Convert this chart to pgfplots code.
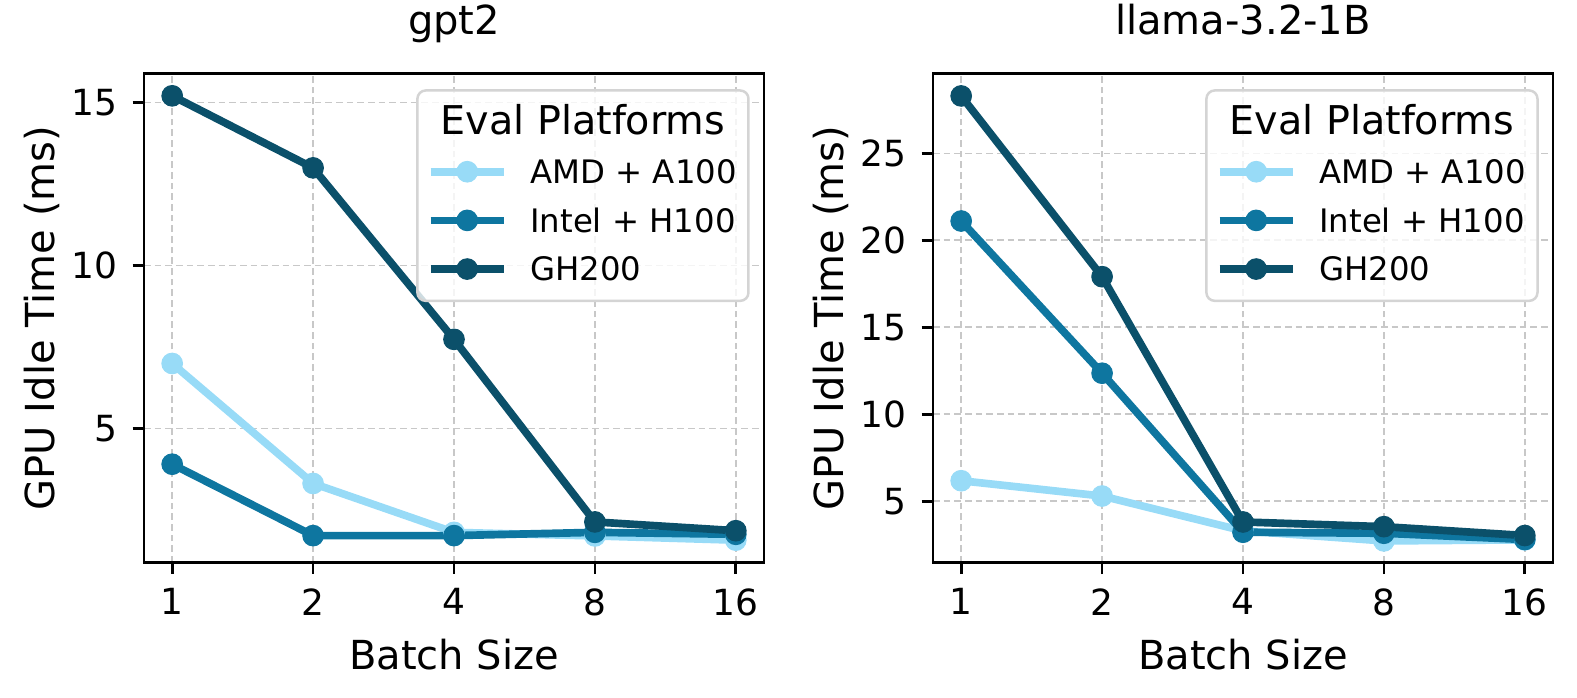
\documentclass[border=0pt]{standalone}
\usepackage{fontspec}
\setmainfont{DejaVu Sans}
\usepackage{pgfplots}
\pgfplotsset{compat=1.18}
\definecolor{amd}{RGB}{152,219,247}
\definecolor{intel}{RGB}{14,118,160}
\definecolor{gh}{RGB}{11,80,106}
\definecolor{gridc}{RGB}{200,200,200}
\definecolor{legc}{RGB}{212,212,212}

\pgfplotsset{
  myaxis/.style={
    scale only axis, width=186bp, height=146.8bp,
    enlargelimits=false,
    xmin=-0.2, xmax=4.2, xtick={0,1,2,3,4}, xticklabels={1,2,4,8,16},
    axis line style={line width=0.8bp, black},
    every tick/.style={line width=0.8bp, black},
    major tick length=3.4bp,
    tick align=outside,
    xtick pos=bottom, ytick pos=left,
    grid=major,
    major grid style={gridc, line width=0.5bp, dash pattern=on 2bp off 1.2bp},
    tick label style={font=\fontsize{10.8bp}{12bp}\selectfont},
    /pgf/number format/assume math mode=true,
    xticklabel style={anchor=north, inner sep=0pt, yshift=-4.1bp},
    yticklabel style={anchor=east, inner sep=0pt, xshift=-4.5bp},
    every axis x label/.style={at={(axis description cs:0.5,-0.218)}, anchor=base, font=\fontsize{12bp}{14bp}\selectfont},
    every axis y label/.style={at={(axis description cs:-0.145,0.5)}, rotate=90, anchor=base, font=\fontsize{12bp}{14bp}\selectfont},
    title style={at={(axis description cs:0.5,1.0395)}, anchor=base, font=\fontsize{12bp}{14bp}\selectfont},
    xlabel={Batch Size}, ylabel={GPU Idle Time (ms)},
    legend cell align=left,
    legend style={at={(rel axis cs:0.456,0.823)}, anchor=north west, draw=none, fill=none,
      inner sep=0pt, outer sep=0pt, row sep=7.53bp, column sep=6.8bp,
      font=\fontsize{9.7bp}{11bp}\selectfont,
      nodes={inner sep=0pt, text height=7.07bp, text depth=0pt}},
    legend image code/.code={\draw[mark repeat=2, mark phase=2, #1] plot coordinates {(0bp,0bp) (11bp,0bp) (22bp,0bp)};},
  },
  ser/.style={color=#1, line width=2.3bp, mark=*, mark size=3.1bp, mark options={solid, fill=#1, draw=#1, line width=0.3bp}},
}

\begin{document}
\begin{tikzpicture}
\useasboundingbox (0,0) rectangle (473.1bp,209.4bp);

\begin{axis}[myaxis, at={(43.2bp,40.6bp)}, anchor=south west,
  ymin=0.88, ymax=15.89, ytick={5,10,15}, title={gpt2}]
\addplot[ser=amd] coordinates {(0,6.99) (1,3.31) (2,1.81) (3,1.70) (4,1.57)};
\addlegendentry{AMD + A100}
\addplot[ser=intel] coordinates {(0,3.90) (1,1.71) (2,1.71) (3,1.81) (4,1.75)};
\addlegendentry{Intel + H100}
\addplot[ser=gh] coordinates {(0,15.20) (1,12.99) (2,7.73) (3,2.13) (4,1.86)};
\addlegendentry{GH200}
\draw[legc, line width=0.75bp, rounded corners=2.5bp, fill=white, fill opacity=0.8] (rel axis cs:0.441,0.535) rectangle (rel axis cs:0.975,0.965);
\node[anchor=base, font=\fontsize{11.9bp}{13bp}\selectfont] at (rel axis cs:0.708,0.876) {Eval Platforms};
\end{axis}

\begin{axis}[myaxis, at={(279.9bp,40.6bp)}, anchor=south west,
  ymin=1.47, ymax=29.6, ytick={5,10,15,20,25}, title={llama-3.2-1B}]
\addplot[ser=amd] coordinates {(0,6.18) (1,5.30) (2,3.30) (3,2.72) (4,2.78)};
\addlegendentry{AMD + A100}
\addplot[ser=intel] coordinates {(0,21.11) (1,12.36) (2,3.22) (3,3.16) (4,2.80)};
\addlegendentry{Intel + H100}
\addplot[ser=gh] coordinates {(0,28.30) (1,17.91) (2,3.81) (3,3.54) (4,3.03)};
\addlegendentry{GH200}
\draw[legc, line width=0.75bp, rounded corners=2.5bp, fill=white, fill opacity=0.8] (rel axis cs:0.441,0.535) rectangle (rel axis cs:0.975,0.965);
\node[anchor=base, font=\fontsize{11.9bp}{13bp}\selectfont] at (rel axis cs:0.708,0.876) {Eval Platforms};
\end{axis}
\end{tikzpicture}
\end{document}
